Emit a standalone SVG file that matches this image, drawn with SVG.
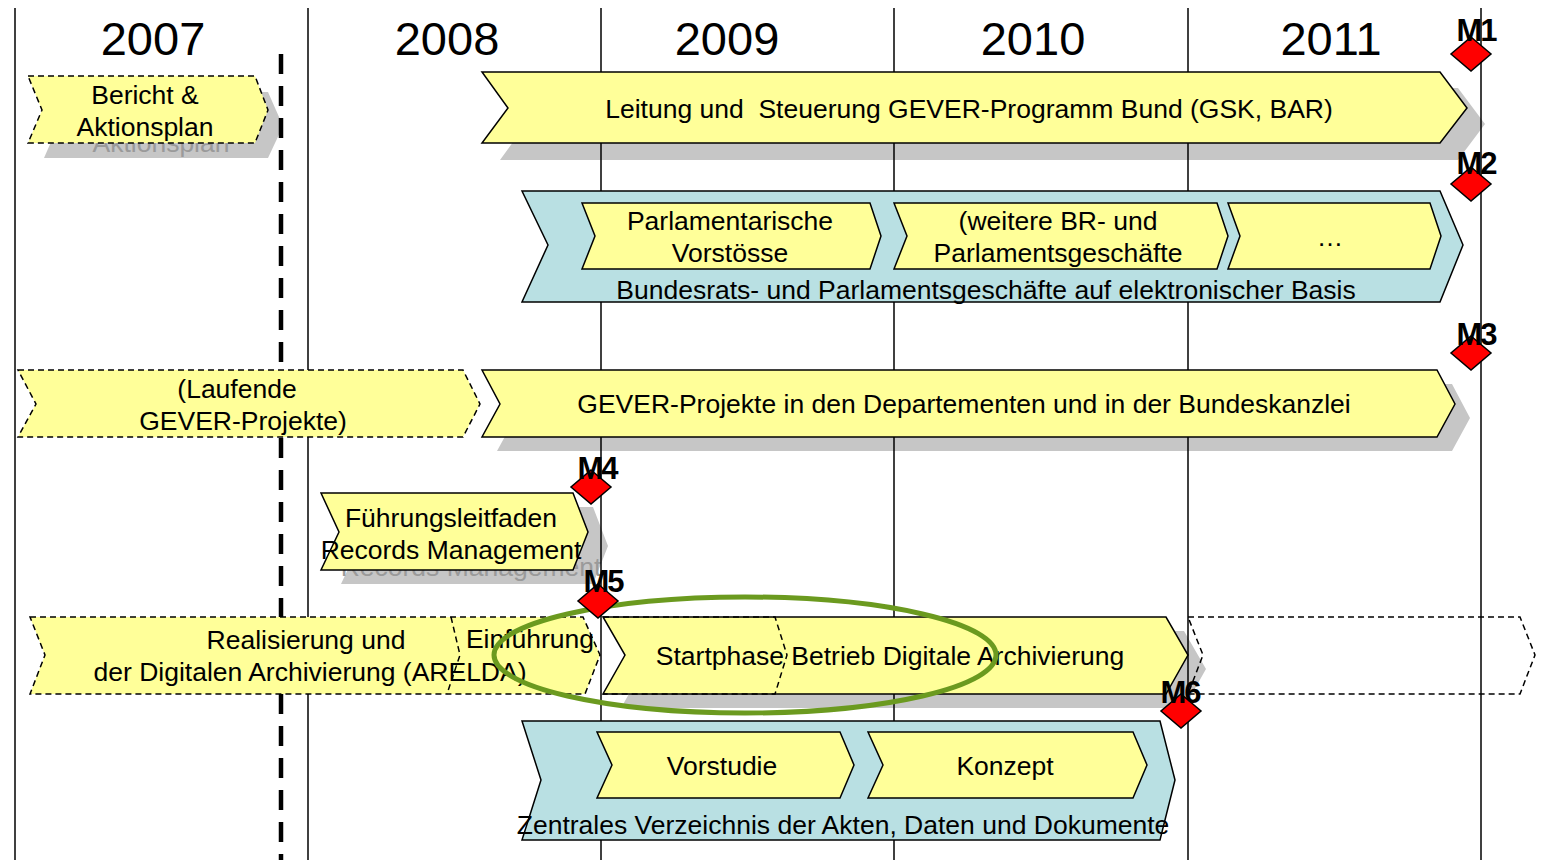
<svg xmlns="http://www.w3.org/2000/svg" width="1562" height="860" viewBox="0 0 1562 860">
<style>
text{font-family:"Liberation Sans",Arial,sans-serif;fill:#000}
.yr{font-size:47px;text-anchor:middle}
.lb{font-size:26.5px;text-anchor:middle;white-space:pre}
.gh{font-size:26.5px;text-anchor:middle;fill:#9a9a9a}
.ml{font-size:31px;font-weight:bold;text-anchor:middle;letter-spacing:-2px}
.sh{fill:#c6c6c6;stroke:none}
.y{fill:#ffff99;stroke:#000;stroke-width:1.5}
.yd{fill:#ffff99;stroke:#000;stroke-width:1.5;stroke-dasharray:6 4}
.b{fill:#b9e0e3;stroke:#000;stroke-width:1.5}
.od{fill:none;stroke:#000;stroke-width:1.5;stroke-dasharray:6 4}
.vl{stroke:#000;stroke-width:1.5}
.dm{fill:#ff0000;stroke:#000;stroke-width:1.5}
</style>
<rect width="1562" height="860" fill="#fff"/>
<g id="shadows">
<polygon class="sh" points="44,92 268,92 283,126 268,158 44,158 58,126"/>
<text class="gh" x="161" y="152">Aktionsplan</text>
<polygon class="sh" points="500,88 1458,88 1485,124 1458,160 500,160 526,124"/>
<polygon class="sh" points="597,217 885,217 896,250 885,283 597,283 610,250"/>
<text class="gh" x="745" y="277">Vorstösse</text>
<polygon class="sh" points="909,217 1232,217 1243,250 1232,283 909,283 922,250"/>
<text class="gh" x="1073" y="277">Parlamentsgeschäfte</text>
<polygon class="sh" points="1243,217 1445,217 1456,250 1445,283 1243,283 1255,250"/>
<polygon class="sh" points="497,384 1452,384 1470,418 1452,451 497,451 515,418"/>
<polygon class="sh" points="341,507 593,507 608,546 593,584 341,584 359,546"/>
<text class="gh" x="471" y="576">Records Management</text>
<polygon class="sh" points="621,631 1184,631 1206,669 1184,708 621,708 643,669"/>
<polygon class="sh" points="615,746 858,746 872,779 858,812 615,812 630,779"/>
<polygon class="sh" points="886,746 1151,746 1165,779 1151,812 886,812 901,779"/>
</g>
<g id="grid">
<line class="vl" x1="15" y1="8" x2="15" y2="860"/>
<line class="vl" x1="308" y1="8" x2="308" y2="860"/>
<line class="vl" x1="601" y1="8" x2="601" y2="860"/>
<line class="vl" x1="894" y1="8" x2="894" y2="860"/>
<line class="vl" x1="1188" y1="8" x2="1188" y2="860"/>
<line class="vl" x1="1481" y1="8" x2="1481" y2="860"/>
<line x1="281" y1="54" x2="281" y2="860" stroke="#000" stroke-width="4.5" stroke-dasharray="20 12"/>
<text class="yr" x="153" y="55">2007</text>
<text class="yr" x="447" y="55">2008</text>
<text class="yr" x="727" y="55">2009</text>
<text class="yr" x="1033" y="55">2010</text>
<text class="yr" x="1331" y="55">2011</text>
</g>
<g id="bericht">
<polygon class="yd" points="28,76 255,76 268,110 255,143 28,143 42,110"/>
<text class="lb" x="145" y="104">Bericht &amp;</text>
<text class="lb" x="145" y="136">Aktionsplan</text>
</g>
<g id="leitung">
<polygon class="y" points="482,72 1440,72 1467,108 1440,143 482,143 508,108"/>
<text class="lb" x="969" y="118" xml:space="preserve">Leitung und  Steuerung GEVER-Programm Bund (GSK, BAR)</text>
</g>
<g id="bundesrats">
<polygon class="b" points="522,191 1440,191 1463,245 1440,302 522,302 548,245"/>
<text class="lb" x="986" y="299">Bundesrats- und Parlamentsgeschäfte auf elektronischer Basis</text>
</g>
<g id="parlamentarische">
<polygon class="y" points="582,203 870,203 881,236 870,269 582,269 595,236"/>
<text class="lb" x="730" y="230">Parlamentarische</text>
<text class="lb" x="730" y="262">Vorstösse</text>
</g>
<g id="weitere">
<polygon class="y" points="894,203 1217,203 1228,236 1217,269 894,269 907,236"/>
<text class="lb" x="1058" y="230">(weitere BR- und</text>
<text class="lb" x="1058" y="262">Parlamentsgeschäfte</text>
</g>
<g id="etc">
<polygon class="y" points="1228,203 1430,203 1441,236 1430,269 1228,269 1240,236"/>
<text class="lb" x="1330" y="246">…</text>
</g>
<g id="laufende">
<polygon class="yd" points="18,370 463,370 480,404 463,437 18,437 36,404"/>
<text class="lb" x="237" y="398">(Laufende</text>
<text class="lb" x="243" y="430">GEVER-Projekte)</text>
</g>
<g id="gever">
<polygon class="y" points="482,370 1437,370 1455,404 1437,437 482,437 500,404"/>
<text class="lb" x="964" y="413">GEVER-Projekte in den Departementen und in der Bundeskanzlei</text>
</g>
<g id="fuehrung">
<polygon class="y" points="321,493 573,493 588,532 573,570 321,570 339,532"/>
<text class="lb" x="451" y="527">Führungsleitfaden</text>
<text class="lb" x="451" y="559">Records Management</text>
</g>
<g id="realisierung">
<polygon class="yd" points="30,617 583,617 600,655 585,694 30,694 45,655"/>
<path class="od" d="M451,617 L460,655 L447,694"/>
<text class="lb" x="306" y="649">Realisierung und</text>
<text class="lb" x="310" y="681">der Digitalen Archivierung (ARELDA)</text>
<text class="lb" x="530" y="648">Einführung</text>
</g>
<g id="betrieb">
<polygon class="y" points="603,617 1166,617 1188,655 1166,694 603,694 625,655"/>
<path class="od" d="M603,617 L775,617 L787,655 L775,694 L603,694"/>
<text class="lb" x="890" y="665">Startphase Betrieb Digitale Archivierung</text>
</g>
<g id="betrieb-future">
<polygon class="od" points="1188,617 1520,617 1535,655 1520,694 1188,694 1203,655"/>
</g>
<g id="zentrales">
<polygon class="b" points="522,721 1160,721 1175,780 1160,840 522,840 541,780"/>
<text class="lb" x="843" y="834">Zentrales Verzeichnis der Akten, Daten und Dokumente</text>
</g>
<g id="vorstudie">
<polygon class="y" points="597,732 840,732 854,765 840,798 597,798 612,765"/>
<text class="lb" x="722" y="775">Vorstudie</text>
</g>
<g id="konzept">
<polygon class="y" points="868,732 1133,732 1147,765 1133,798 868,798 883,765"/>
<text class="lb" x="1005" y="775">Konzept</text>
</g>
<g id="highlight">
<ellipse cx="745" cy="655" rx="251" ry="58" fill="none" stroke="#6b9a1f" stroke-width="5"/>
</g>
<g id="m1"><polygon class="dm" points="1471,37 1491,54 1471,71 1451,54"/><text class="ml" x="1476" y="41">M1</text></g>
<g id="m2"><polygon class="dm" points="1471,167 1491,184 1471,201 1451,184"/><text class="ml" x="1476" y="174">M2</text></g>
<g id="m3"><polygon class="dm" points="1471,336 1491,353 1471,370 1451,353"/><text class="ml" x="1476" y="345">M3</text></g>
<g id="m4"><polygon class="dm" points="591,470 611,487 591,504 571,487"/><text class="ml" x="597" y="479">M4</text></g>
<g id="m5"><polygon class="dm" points="598,584 618,601 598,618 578,601"/><text class="ml" x="603" y="592">M5</text></g>
<g id="m6"><polygon class="dm" points="1181,694 1201,711 1181,728 1161,711"/><text class="ml" x="1180" y="703">M6</text></g>
</svg>
